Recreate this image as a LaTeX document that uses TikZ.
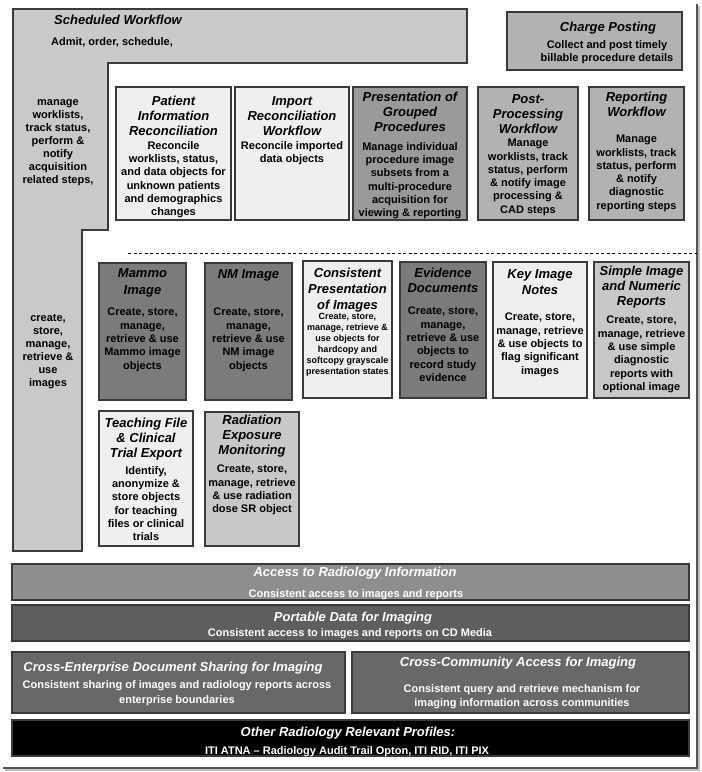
\documentclass[tikz,border=0pt]{standalone}
\usepackage{fontspec}
\setmainfont{Liberation Sans}
\definecolor{bordc}{HTML}{3A3A3A}
\definecolor{schedc}{HTML}{C9C9C9}
\definecolor{lightc}{HTML}{EFEFEF}
\definecolor{midc}{HTML}{9A9A9A}
\definecolor{postc}{HTML}{B2B2B2}
\definecolor{darkc}{HTML}{7B7B7B}
\definecolor{simplec}{HTML}{C8C8C8}
\definecolor{accc}{HTML}{8E8E8E}
\definecolor{pdic}{HTML}{5E5E5E}
\definecolor{xc}{HTML}{686868}
\definecolor{framec}{HTML}{555555}
\tikzset{
  bx/.style={draw=bordc, line width=1.4pt, inner sep=0pt, outer sep=0pt},
  ttl/.style={font=\fontsize{13}{15}\selectfont\bfseries\itshape, align=center, inner sep=0pt, anchor=north},
  bdy/.style={font=\fontsize{11}{13.3}\selectfont\bfseries, align=center, inner sep=0pt, anchor=north},
  sbdy/.style={font=\fontsize{9}{11}\selectfont\bfseries, align=center, inner sep=0pt, anchor=north},
  wt/.style={text=white},
}
\newcommand\mkbox[6]{\node[bx, fill=#6, minimum width={#4-#2}, minimum height={#5-#3}] (#1) at ({(#2+#4)/2},{(#3+#5)/2}) {};}
\begin{document}
\begin{tikzpicture}[x=1pt,y=-1pt]
\useasboundingbox (0,0) rectangle (702,772);
% outer frame
\draw[line width=2pt, color=black!25] (699,6) -- (699,770) -- (5,770);
\draw[line width=1.2pt, color=framec] (697,4) -- (697,768) -- (3,768);
% scheduled workflow L shape
\draw[fill=schedc, draw=bordc, line width=1.4pt] (13,9) -- (467,9) -- (467,63) -- (108,63) -- (108,230) -- (82,230) -- (82,551) -- (13,551) -- cycle;
\node[ttl] (swT) at (118,15) {Scheduled Workflow};
\node[bdy] (swA) at (112,37.5) {Admit, order, schedule,};
\node[bdy, font=\fontsize{11}{13}\selectfont\bfseries] (swL) at (58,99.5) {manage\\worklists,\\track status,\\perform \&\\notify\\acquisition\\related steps,};
\node[bdy, font=\fontsize{11}{13}\selectfont\bfseries] (swI) at (48,314) {create,\\store,\\manage,\\retrieve \&\\use\\images};
% charge posting
\mkbox{cp}{507}{12}{682}{70}{postc}
\node[ttl] (cpT) at (608,22.2) {Charge Posting};
\node[bdy] (cpB) at (607,40) {Collect and post timely\\billable procedure details};
% top row
\mkbox{pir}{116}{87}{231}{220}{lightc}
\node[ttl] (pirT) at (173.5,96.2) {Patient\\Information\\Reconciliation};
\node[bdy] (pirB) at (173.5,141) {Reconcile\\worklists, status,\\and data objects for\\unknown patients\\and demographics\\changes};
\mkbox{irw}{235}{87}{349}{220}{lightc}
\node[ttl] (irwT) at (292,96.2) {Import\\Reconciliation\\Workflow};
\node[bdy] (irwB) at (292,141) {Reconcile imported\\data objects};
\mkbox{pgp}{353}{87}{467}{220}{midc}
\node[ttl] (pgpT) at (410,92.2) {Presentation of\\Grouped\\Procedures};
\node[bdy] (pgpB) at (410,142) {Manage individual\\procedure image\\subsets from a\\multi-procedure\\acquisition for\\viewing \& reporting};
\mkbox{ppw}{478}{87}{578}{220}{postc}
\node[ttl] (ppwT) at (528,94.2) {Post-\\Processing\\Workflow};
\node[bdy] (ppwB) at (528,139) {Manage\\worklists, track\\status, perform\\\& notify image\\processing \&\\CAD steps};
\mkbox{rw}{589}{87}{684}{220}{postc}
\node[ttl] (rwT) at (636.5,92.2) {Reporting\\Workflow};
\node[bdy] (rwB) at (636.5,135) {Manage\\worklists, track\\status, perform\\\& notify\\diagnostic\\reporting steps};
% dashed separator
\coordinate (dsA) at (128,253);
\coordinate (dsB) at (697,253);
\draw[line width=1pt, dash pattern=on 3pt off 2.5pt] (dsA) -- (dsB);
% middle row
\mkbox{mam}{99}{263}{186}{400}{darkc}
\node[ttl, font=\fontsize{13}{17}\selectfont\bfseries\itshape] (mamT) at (142.5,268.2) {Mammo\\Image};
\node[bdy] (mamB) at (142.5,308) {Create, store,\\manage,\\retrieve \& use\\Mammo image\\objects};
\mkbox{nm}{205}{263}{292}{400}{darkc}
\node[ttl] (nmT) at (248.5,269.2) {NM Image};
\node[bdy] (nmB) at (248.5,308) {Create, store,\\manage,\\retrieve \& use\\NM image\\objects};
\mkbox{cpi}{303}{261}{392}{398}{lightc}
\node[ttl, font=\fontsize{13}{16}\selectfont\bfseries\itshape] (cpiT) at (347.5,268.2) {Consistent\\Presentation\\of Images};
\node[sbdy] (cpiB) at (347.5,313.5) {Create, store,\\manage, retrieve \&\\use objects for\\hardcopy and\\softcopy grayscale\\presentation states};
\mkbox{ev}{400}{262}{486}{398}{darkc}
\node[ttl] (evT) at (443,268.2) {Evidence\\Documents};
\node[bdy] (evB) at (443,307) {Create, store,\\manage,\\retrieve \& use\\objects to\\record study\\evidence};
\mkbox{kin}{493}{262}{587}{398}{lightc}
\node[ttl, font=\fontsize{13}{16}\selectfont\bfseries\itshape] (kinT) at (540,269.2) {Key Image\\Notes};
\node[bdy] (kinB) at (540,313) {Create, store,\\manage, retrieve\\\& use objects to\\flag significant\\images};
\mkbox{sinr}{594}{262}{689}{398}{simplec}
\node[ttl] (sinrT) at (641.5,266.2) {Simple Image\\and Numeric\\Reports};
\node[bdy] (sinrB) at (641.5,316) {Create, store,\\manage, retrieve\\\& use simple\\diagnostic\\reports with\\optional image};
% third row
\mkbox{tf}{99}{411}{193}{546}{lightc}
\node[ttl] (tfT) at (146,418.2) {Teaching File\\\& Clinical\\Trial Export};
\node[bdy] (tfB) at (146,466) {Identify,\\anonymize \&\\store objects\\for teaching\\files or clinical\\trials};
\mkbox{rem}{205}{412}{299}{546}{simplec}
\node[ttl] (remT) at (252,415.2) {Radiation\\Exposure\\Monitoring};
\node[bdy] (remB) at (252,465) {Create, store,\\manage, retrieve\\\& use radiation\\dose SR object};
% bottom bars
\mkbox{acc}{12}{564}{689}{600}{accc}
\node[ttl, wt] (accT) at (355,567.2) {Access to Radiology Information};
\node[bdy, wt] (accB) at (356,589) {Consistent access to images and reports};
\mkbox{pdi}{12}{605}{689}{641}{pdic}
\node[ttl, wt] (pdiT) at (353,612.2) {Portable Data for Imaging};
\node[bdy, wt] (pdiB) at (350,628) {Consistent access to images and reports on CD Media};
\mkbox{xds}{12}{652}{345}{713}{xc}
\node[ttl, wt] (xdsT) at (173,662.2) {Cross-Enterprise Document Sharing for Imaging};
\node[bdy, wt, font=\fontsize{11}{15}\selectfont\bfseries] (xdsB) at (177,680) {Consistent sharing of images and radiology reports across\\enterprise boundaries};
\mkbox{xca}{352}{652}{689}{713}{xc}
\node[ttl, wt] (xcaT) at (518,657.2) {Cross-Community Access for Imaging};
\node[bdy, wt, font=\fontsize{11}{14}\selectfont\bfseries] (xcaB) at (522,684) {Consistent query and retrieve mechanism for\\imaging information across communities};
\mkbox{oth}{12}{720}{689}{756}{black}
\node[ttl, wt] (othT) at (348,727.2) {Other Radiology Relevant Profiles:};
\node[bdy, wt] (othB) at (347,746) {ITI ATNA – Radiology Audit Trail Opton, ITI RID, ITI PIX};
\end{tikzpicture}
\end{document}
